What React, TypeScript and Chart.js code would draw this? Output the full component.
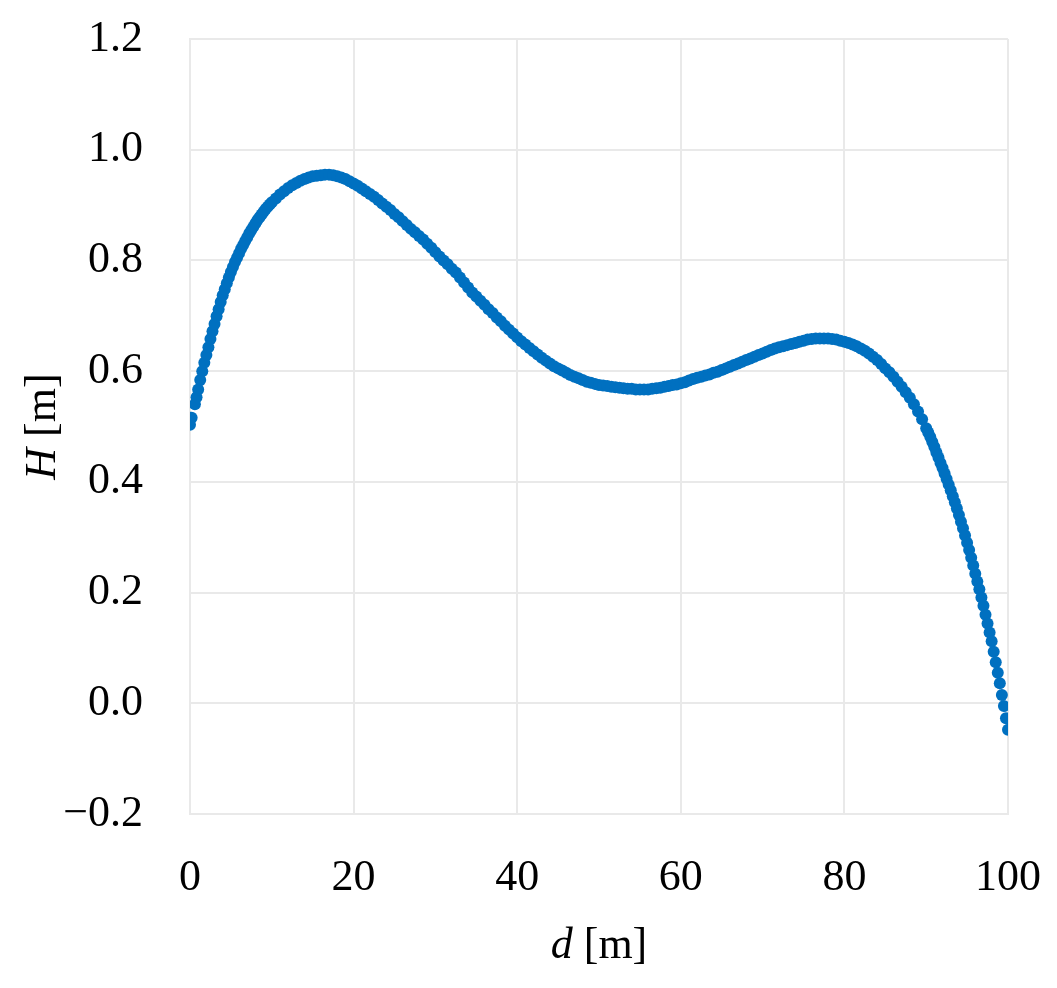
import React, { useEffect, useRef } from "react";
import { Chart, registerables } from "chart.js";

Chart.register(...registerables);

// d [m] of each measured point
const distance = [
  0, 0.2, 0.6, 0.8, 1, 1.25, 1.5, 1.75, 2, 2.25,
  2.5, 2.75, 3, 3.25, 3.5, 3.75, 4, 4.25, 4.5, 4.75,
  5, 5.25, 5.5, 5.75, 6, 6.25, 6.5, 6.75, 7, 7.25,
  7.5, 7.75, 8, 8.25, 8.5, 8.75, 9, 9.25, 9.5, 9.75,
  10, 10.5, 11, 11.5, 12, 12.5, 13, 13.5, 14, 14.5,
  15, 15.5, 16, 16.5, 17, 17.5, 18, 18.5, 19, 19.5,
  20, 20.5, 21, 21.5, 22, 22.5, 23, 23.5, 24, 24.5,
  25, 25.5, 26, 26.5, 27, 27.5, 28, 28.5, 29, 29.5,
  30, 30.5, 31, 31.5, 32, 32.5, 33, 33.5, 34, 34.5,
  35, 35.5, 36, 36.5, 37, 37.5, 38, 38.5, 39, 39.5,
  40, 40.5, 41, 41.5, 42, 42.5, 43, 43.5, 44, 44.5,
  45, 45.5, 46, 46.5, 47, 47.5, 48, 48.5, 49, 49.5,
  50, 50.5, 51, 51.5, 52, 52.5, 53, 53.5, 54, 54.5,
  55, 55.5, 56, 56.5, 57, 57.5, 58, 58.5, 59, 59.5,
  60, 60.5, 61, 61.5, 62, 62.5, 63, 63.5, 64, 64.5,
  65, 65.5, 66, 66.5, 67, 67.5, 68, 68.5, 69, 69.5,
  70, 70.5, 71, 71.5, 72, 72.5, 73, 73.5, 74, 74.5,
  75, 75.5, 76, 76.5, 77, 77.5, 78, 78.5, 79, 79.5,
  80, 80.5, 81, 81.5, 82, 82.5, 83, 83.5, 84, 84.5,
  85, 85.5, 86, 86.5, 87, 87.5, 88, 88.5, 89, 89.5,
  90, 90.25, 90.5, 90.75, 91, 91.25, 91.5, 91.75, 92, 92.25,
  92.5, 92.75, 93, 93.25, 93.5, 93.75, 94, 94.25, 94.5, 94.75,
  95, 95.25, 95.5, 95.75, 96, 96.25, 96.5, 96.75, 97, 97.25,
  97.5, 97.75, 98, 98.25, 98.5, 98.75, 99, 99.25, 99.5, 99.75,
  100,
];

// H [m]
const height = [
  0.503, 0.516, 0.54, 0.553, 0.567, 0.584, 0.6, 0.615, 0.629, 0.643,
  0.658, 0.672, 0.685, 0.699, 0.712, 0.725, 0.737, 0.748, 0.759, 0.769,
  0.779, 0.788, 0.797, 0.805, 0.813, 0.821, 0.828, 0.835, 0.842, 0.849,
  0.855, 0.861, 0.867, 0.873, 0.878, 0.883, 0.888, 0.893, 0.897, 0.901,
  0.905, 0.912, 0.919, 0.925, 0.931, 0.936, 0.94, 0.944, 0.947, 0.95,
  0.952, 0.953, 0.954, 0.955, 0.955, 0.954, 0.952, 0.95, 0.947, 0.943,
  0.939, 0.935, 0.93, 0.925, 0.92, 0.915, 0.909, 0.903, 0.897, 0.891,
  0.884, 0.878, 0.871, 0.864, 0.857, 0.851, 0.844, 0.838, 0.83, 0.823,
  0.815, 0.807, 0.8, 0.793, 0.785, 0.778, 0.769, 0.76, 0.751, 0.742,
  0.735, 0.727, 0.72, 0.712, 0.705, 0.697, 0.69, 0.682, 0.675, 0.668,
  0.661, 0.654, 0.648, 0.642, 0.636, 0.63, 0.624, 0.619, 0.614, 0.609,
  0.605, 0.601, 0.597, 0.593, 0.59, 0.587, 0.584, 0.581, 0.579, 0.577,
  0.575, 0.574, 0.573, 0.572, 0.571, 0.57, 0.569, 0.568, 0.568, 0.567,
  0.567, 0.567, 0.567, 0.568, 0.569, 0.57, 0.572, 0.573, 0.575, 0.576,
  0.578, 0.58, 0.583, 0.586, 0.588, 0.59, 0.592, 0.594, 0.597, 0.599,
  0.602, 0.605, 0.608, 0.611, 0.614, 0.617, 0.62, 0.623, 0.626, 0.629,
  0.632, 0.635, 0.638, 0.641, 0.643, 0.645, 0.647, 0.649, 0.651, 0.653,
  0.655, 0.657, 0.658, 0.659, 0.659, 0.659, 0.659, 0.658, 0.657, 0.655,
  0.653, 0.651, 0.648, 0.645, 0.641, 0.637, 0.632, 0.626, 0.62, 0.613,
  0.605, 0.598, 0.59, 0.581, 0.572, 0.562, 0.552, 0.54, 0.527, 0.513,
  0.497, 0.489, 0.481, 0.472, 0.463, 0.453, 0.444, 0.434, 0.425, 0.415,
  0.405, 0.395, 0.385, 0.374, 0.363, 0.352, 0.34, 0.328, 0.316, 0.303,
  0.29, 0.277, 0.263, 0.249, 0.234, 0.22, 0.206, 0.191, 0.176, 0.16,
  0.144, 0.128, 0.112, 0.093, 0.074, 0.055, 0.036, 0.015, -0.005, -0.027,
  -0.048,
];

const xTicks = [0, 20, 40, 60, 80, 100];
const yTicks = [-0.2, 0, 0.2, 0.4, 0.6, 0.8, 1.0, 1.2];

const FONT = "'Liberation Serif', 'Times New Roman', serif";
const FONT_SIZE = 44;
const GRID = "#e9e9e9";

// draw "italic symbol" + " [unit]" centred on (cx, y)
function drawMixed(ctx: CanvasRenderingContext2D, sym: string, rest: string, cx: number, y: number) {
  ctx.font = `italic ${FONT_SIZE}px ${FONT}`;
  const w1 = ctx.measureText(sym).width;
  ctx.font = `${FONT_SIZE}px ${FONT}`;
  const w2 = ctx.measureText(rest).width;
  const start = cx - (w1 + w2) / 2;
  ctx.font = `italic ${FONT_SIZE}px ${FONT}`;
  ctx.fillText(sym, start, y);
  ctx.font = `${FONT_SIZE}px ${FONT}`;
  ctx.fillText(rest, start + w1, y);
}

const axisTitles = {
  id: "axisTitles",
  afterDraw(chart: any) {
    const { ctx, chartArea } = chart;
    ctx.save();
    ctx.fillStyle = "#000";
    ctx.textAlign = "left";
    ctx.textBaseline = "alphabetic";
    drawMixed(ctx, "d", " [m]", (chartArea.left + chartArea.right) / 2, chart.height - 22);
    ctx.translate(47, (chartArea.top + chartArea.bottom) / 2);
    ctx.rotate(-Math.PI / 2);
    drawMixed(ctx, "H", " [m]", 0, 0);
    ctx.restore();
  },
};

const fmt = (v: number) => {
  const s = Math.abs(v).toFixed(1);
  return v < -1e-9 ? "\u2212" + s : s;
};

// stop tick labels from pushing the plot area in
const noOverhang = (scale: any) => {
  scale.paddingTop = 0;
  scale.paddingBottom = 0;
  scale.paddingLeft = 0;
  scale.paddingRight = 0;
};

export default function App() {
  const canvasRef = useRef<HTMLCanvasElement | null>(null);
  const chartRef = useRef<Chart | null>(null);

  useEffect(() => {
    if (!canvasRef.current) return;
    if (chartRef.current) chartRef.current.destroy();

    const points = distance.map((d, i) => ({ x: d, y: height[i] }));

    chartRef.current = new Chart(canvasRef.current, {
      type: "scatter",
      data: {
        datasets: [
          {
            label: "H",
            data: points,
            backgroundColor: "rgb(0, 112, 192)",
            borderWidth: 0,
            pointRadius: 6,
          },
        ],
      },
      options: {
        animation: false,
        responsive: true,
        maintainAspectRatio: false,
        layout: { padding: { top: 31, right: 41, left: 0, bottom: 0 } },
        plugins: {
          legend: { display: false },
          tooltip: { enabled: false },
        },
        scales: {
          x: {
            type: "linear",
            min: 0,
            max: 100,
            afterBuildTicks: (scale: any) => {
              scale.ticks = xTicks.map((v) => ({ value: v }));
            },
            afterFit: (scale: any) => {
              scale.height = 166;
              noOverhang(scale);
            },
            ticks: {
              color: "#000",
              font: { family: FONT, size: FONT_SIZE },
              padding: 38,
              maxRotation: 0,
              callback: (v: any) => String(v),
            },
            grid: { color: GRID, lineWidth: 2, drawTicks: false },
            border: { color: GRID, width: 2 },
          },
          y: {
            type: "linear",
            min: -0.2,
            max: 1.2,
            afterBuildTicks: (scale: any) => {
              scale.ticks = yTicks.map((v) => ({ value: v }));
            },
            afterFit: (scale: any) => {
              scale.width = 182;
              noOverhang(scale);
            },
            ticks: {
              color: "#000",
              font: { family: FONT, size: FONT_SIZE },
              padding: 47,
              callback: (v: any) => fmt(Number(v)),
            },
            grid: { color: GRID, lineWidth: 2, drawTicks: false },
            border: { color: GRID, width: 2 },
          },
        },
      },
      plugins: [axisTitles],
    });

    return () => {
      if (chartRef.current) {
        chartRef.current.destroy();
        chartRef.current = null;
      }
    };
  }, []);

  return (
    <div style={{ position: "relative", width: "1041px", height: "972px" }}>
      <canvas ref={canvasRef} />
    </div>
  );
}
